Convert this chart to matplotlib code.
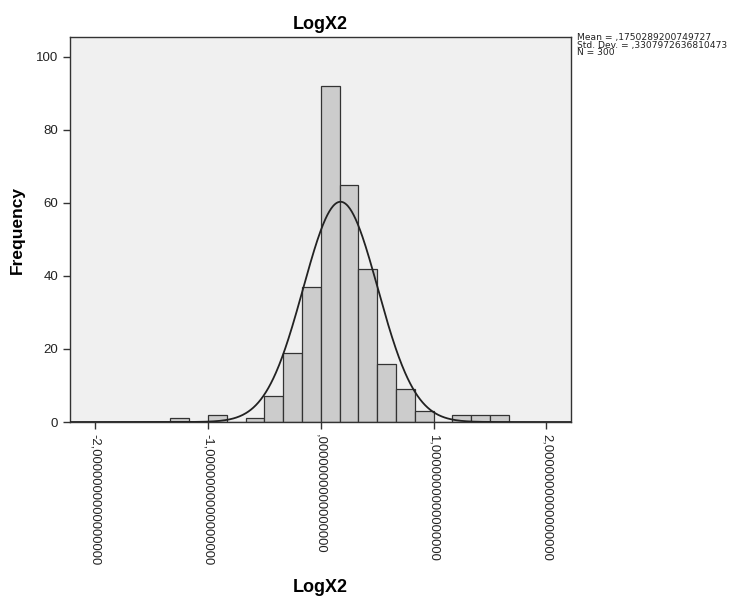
import numpy as np
import matplotlib
matplotlib.use("Agg")
import matplotlib.pyplot as plt

plt.rcParams['font.family'] = ['Liberation Sans', 'DejaVu Sans']

# Histogram data (bin width 1/6, edges at multiples of 1/6)
bin_width = 1.0 / 6.0
bin_left_index = [-8, -7, -6, -5, -4, -3, -2, -1, 0, 1, 2, 3, 4, 5, 6, 7, 8, 9]
counts = [1, 0, 2, 0, 1, 7, 19, 37, 92, 65, 42, 16, 9, 3, 0, 2, 2, 2]

mean = 0.1750289200749727
std = 0.3307972636810473
n = 300

xticks = [-2, -1, 0, 1, 2]
xtick_labels = ["-2,0000000000000000", "-1,0000000000000000", ",0000000000000000",
                "1,0000000000000000", "2,0000000000000000"]
yticks = [0, 20, 40, 60, 80, 100]

fig = plt.figure(figsize=(7.48, 6.01), dpi=100)
ax = fig.add_axes([0.0936, 0.2978, 0.6698, 0.6406])
ax.set_facecolor('#F0F0F0')

lefts = np.array(bin_left_index) * bin_width
ax.bar(lefts, counts, width=bin_width, align='edge', color='#CCCCCC',
       edgecolor='#333333', linewidth=0.9, zorder=2)

xs = np.linspace(-2.22, 2.22, 800)
ys = n * bin_width / (std * np.sqrt(2 * np.pi)) * np.exp(-0.5 * ((xs - mean) / std) ** 2)
ax.plot(xs, ys, color='#222222', linewidth=1.3, zorder=3)

ax.set_xlim(-2.222, 2.218)
ax.set_ylim(0, 105.4)
ax.set_xticks(xticks)
ax.set_xticklabels(xtick_labels, rotation=270, fontsize=9.4, va='top', ha='center')
ax.set_yticks(yticks)
ax.set_yticklabels([str(v) for v in yticks], fontsize=9.5)
ax.tick_params(axis='both', direction='out', length=5, width=1, color='#333333', labelcolor='#222222')
for s in ax.spines.values():
    s.set_color('#333333')
    s.set_linewidth(1)

ax.set_title("LogX2", fontsize=13, fontweight='bold', pad=6)
ax.set_xlabel("LogX2", fontsize=13, fontweight='bold', labelpad=10)
ax.set_ylabel("Frequency", fontsize=12.5, fontweight='bold', labelpad=8)

stats_text = "Mean = ,1750289200749727\nStd. Dev. = ,3307972636810473\nN = 300"
fig.text(577 / 748, 1 - 33 / 601, stats_text, family='DejaVu Sans',
         fontsize=6.6, va='top', ha='left', linespacing=0.8, color='#222222')

fig.savefig("out.png", dpi=100)
